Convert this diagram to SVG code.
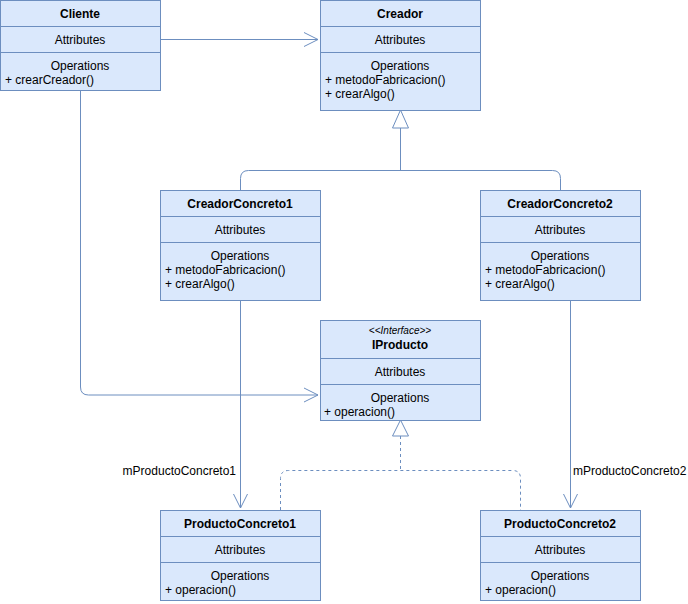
<svg xmlns="http://www.w3.org/2000/svg" width="688" height="604" viewBox="0 0 688 604">
<style>
.box{fill:#dae8fc;stroke:#6c8ebf;stroke-width:1}
.sep{stroke:#6c8ebf;stroke-width:1}
text{font-family:"Liberation Sans",Arial,Helvetica,sans-serif;font-size:12px;fill:#000}
.t{font-weight:bold;text-anchor:middle}
.c{text-anchor:middle}
.st{font-style:italic;font-size:10px;text-anchor:middle}
.edge{fill:none;stroke:#6c8ebf;stroke-width:1}
.dash{stroke-dasharray:3,3}
.tri{fill:#ffffff;stroke:#6c8ebf;stroke-width:1}
</style>
<defs>
<marker id="open" markerUnits="userSpaceOnUse" markerWidth="16" markerHeight="16" refX="14" refY="7" orient="auto" overflow="visible">
<path d="M0,0 L14,7 L0,14" fill="none" stroke="#6c8ebf" stroke-width="1"/>
</marker>
</defs>
<g id="connectors">
<path class="edge" d="M160,39.5 L318,39.5" marker-end="url(#open)"/>
<path class="edge" d="M80.5,90 L80.5,387 Q80.5,395 88.5,395 L318,395" marker-end="url(#open)"/>
<polygon class="tri" points="400.5,110 392.5,128 408.5,128"/>
<path class="edge" d="M400.5,128 L400.5,170.5 M240.5,190 L240.5,178.5 Q240.5,170.5 248.5,170.5 L552.5,170.5 Q560.5,170.5 560.5,178.5 L560.5,190"/>
<path class="edge" d="M240.5,300 L240.5,508" marker-end="url(#open)"/>
<path class="edge" d="M570.5,300 L570.5,508" marker-end="url(#open)"/>
<polygon class="tri" points="400.5,420 392.5,436 408.5,436"/>
<path class="edge dash" d="M400.5,436 L400.5,470.5 M280.5,510 L280.5,478.5 Q280.5,470.5 288.5,470.5 L512.5,470.5 Q520.5,470.5 520.5,478.5 L520.5,510"/>
<text x="236" y="475" text-anchor="end">mProductoConcreto1</text>
<text x="573" y="475">mProductoConcreto2</text>
</g>
<g id="Cliente">
<rect class="box" x="0.5" y="0.5" width="160" height="90"/>
<line class="sep" x1="0.5" y1="26.5" x2="160.5" y2="26.5"/>
<line class="sep" x1="0.5" y1="52.5" x2="160.5" y2="52.5"/>
<text class="t" x="80" y="18">Cliente</text>
<text class="c" x="80" y="44">Attributes</text>
<text class="c" x="80" y="70">Operations</text>
<text x="5" y="84">+ crearCreador()</text>
</g>
<g id="Creador">
<rect class="box" x="320.5" y="0.5" width="160" height="110"/>
<line class="sep" x1="320.5" y1="26.5" x2="480.5" y2="26.5"/>
<line class="sep" x1="320.5" y1="52.5" x2="480.5" y2="52.5"/>
<text class="t" x="400" y="18">Creador</text>
<text class="c" x="400" y="44">Attributes</text>
<text class="c" x="400" y="70">Operations</text>
<text x="325" y="84">+ metodoFabricacion()</text>
<text x="325" y="98">+ crearAlgo()</text>
</g>
<g id="CreadorConcreto1">
<rect class="box" x="160.5" y="190.5" width="160" height="110"/>
<line class="sep" x1="160.5" y1="216.5" x2="320.5" y2="216.5"/>
<line class="sep" x1="160.5" y1="242.5" x2="320.5" y2="242.5"/>
<text class="t" x="240" y="208">CreadorConcreto1</text>
<text class="c" x="240" y="234">Attributes</text>
<text class="c" x="240" y="260">Operations</text>
<text x="165" y="274">+ metodoFabricacion()</text>
<text x="165" y="288">+ crearAlgo()</text>
</g>
<g id="CreadorConcreto2">
<rect class="box" x="480.5" y="190.5" width="160" height="110"/>
<line class="sep" x1="480.5" y1="216.5" x2="640.5" y2="216.5"/>
<line class="sep" x1="480.5" y1="242.5" x2="640.5" y2="242.5"/>
<text class="t" x="560" y="208">CreadorConcreto2</text>
<text class="c" x="560" y="234">Attributes</text>
<text class="c" x="560" y="260">Operations</text>
<text x="485" y="274">+ metodoFabricacion()</text>
<text x="485" y="288">+ crearAlgo()</text>
</g>
<g id="IProducto">
<rect class="box" x="320.5" y="320.5" width="160" height="100"/>
<line class="sep" x1="320.5" y1="358.5" x2="480.5" y2="358.5"/>
<line class="sep" x1="320.5" y1="384.5" x2="480.5" y2="384.5"/>
<text class="st" x="400" y="334">&lt;&lt;Interface&gt;&gt;</text>
<text class="t" x="400" y="349">IProducto</text>
<text class="c" x="400" y="376">Attributes</text>
<text class="c" x="400" y="402">Operations</text>
<text x="324" y="416">+ operacion()</text>
</g>
<g id="ProductoConcreto1">
<rect class="box" x="160.5" y="510.5" width="160" height="90"/>
<line class="sep" x1="160.5" y1="536.5" x2="320.5" y2="536.5"/>
<line class="sep" x1="160.5" y1="562.5" x2="320.5" y2="562.5"/>
<text class="t" x="240" y="528">ProductoConcreto1</text>
<text class="c" x="240" y="554">Attributes</text>
<text class="c" x="240" y="580">Operations</text>
<text x="165" y="594">+ operacion()</text>
</g>
<g id="ProductoConcreto2">
<rect class="box" x="480.5" y="510.5" width="160" height="90"/>
<line class="sep" x1="480.5" y1="536.5" x2="640.5" y2="536.5"/>
<line class="sep" x1="480.5" y1="562.5" x2="640.5" y2="562.5"/>
<text class="t" x="560" y="528">ProductoConcreto2</text>
<text class="c" x="560" y="554">Attributes</text>
<text class="c" x="560" y="580">Operations</text>
<text x="485" y="594">+ operacion()</text>
</g>
</svg>
